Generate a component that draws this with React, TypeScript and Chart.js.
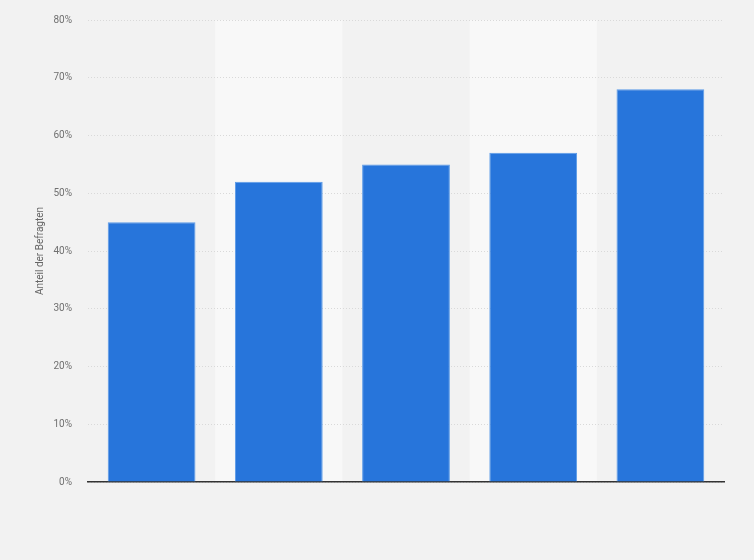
import React, { useEffect, useRef } from "react";
import { Chart, registerables } from "chart.js";

Chart.register(...registerables);

const categories: string[] = ["1", "2", "3", "4", "5"];
const values: number[] = [45, 52, 55, 57, 68];
const yTicks: number[] = [0, 10, 20, 30, 40, 50, 60, 70, 80];
const yTitle = "Anteil der Befragten";

const bgPlugin = {
  id: "bgBands",
  beforeDraw(chart: any) {
    const { ctx, chartArea, scales } = chart;
    ctx.save();
    ctx.fillStyle = "#f2f2f2";
    ctx.fillRect(0, 0, chart.width, chart.height);
    const x = scales.x;
    const n = categories.length;
    const w = (chartArea.right - chartArea.left) / n;
    ctx.fillStyle = "#f8f8f8";
    for (let i = 0; i < n; i++) {
      if (i % 2 === 1) {
        const cx = x.getPixelForValue(i);
        ctx.fillRect(cx - w / 2, chartArea.top, w, chartArea.bottom - chartArea.top);
      }
    }
    ctx.restore();
  },
};

export default function App() {
  const ref = useRef<HTMLCanvasElement | null>(null);
  useEffect(() => {
    document.body.style.margin = "0";
    const c = new Chart(ref.current as HTMLCanvasElement, {
      type: "bar",
      data: {
        labels: categories,
        datasets: [
          {
            data: values,
            backgroundColor: "#2775db",
            borderColor: "#5b9be8",
            borderWidth: 1,
            barPercentage: 0.69,
            categoryPercentage: 1,
          },
        ],
      },
      options: {
        animation: false,
        responsive: false,
        devicePixelRatio: 1,
        layout: { padding: { top: 20, right: 30, bottom: 78, left: 34 } },
        plugins: { legend: { display: false }, tooltip: { enabled: false } },
        scales: {
          x: {
            grid: { display: false, drawTicks: false },
            ticks: { display: false },
            border: { color: "#333333", width: 1.5 },
          },
          y: {
            min: 0,
            max: 80,
            afterBuildTicks: (s: any) => {
              s.ticks = yTicks.map((v) => ({ value: v }));
            },
            afterFit: (s: any) => {
              s.width = 54;
              s.paddingTop = 0;
              s.paddingBottom = 0;
            },
            ticks: {
              callback: (v: any) => v + "%",
              color: "#707070",
              font: { size: 10, family: "Roboto" },
              padding: 16,
            },
            grid: { color: "#d9d9d9", drawTicks: false, lineWidth: 1 },
            border: { display: false, dash: [1, 2] },
            title: {
              display: true,
              text: yTitle,
              color: "#666666",
              font: { size: 10, family: "Roboto" },
              padding: { top: 0, bottom: 0 },
            },
          },
        },
      },
      plugins: [bgPlugin],
    });
    return () => c.destroy();
  }, []);
  return (
    <div style={{ width: 754, height: 560 }}>
      <canvas ref={ref} width={754} height={560} style={{ display: "block" }} />
    </div>
  );
}
